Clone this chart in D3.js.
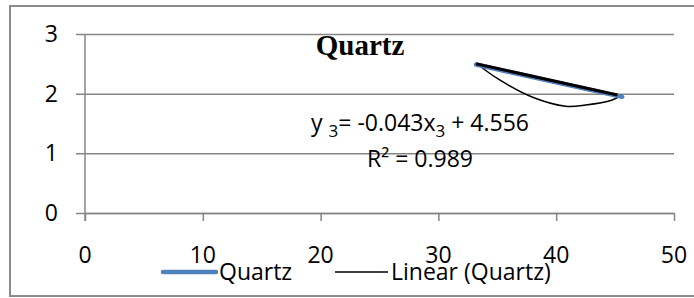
<!DOCTYPE html>
<html>
<head>
<meta charset="utf-8">
<script src="https://cdn.jsdelivr.net/npm/d3@7"></script>
<style>
  body { margin: 0; background: #fff; }
  text { font-family: "Open Sans", sans-serif; fill: #000; }
  .title { font-family: "Liberation Serif", serif; font-weight: bold; }
</style>
</head>
<body>
<svg id="chart"></svg>
<script>
// Data
const quartzX = [33.2, 45.6];
const quartzY = [2.5, 1.96];
// thin curved black line under the series
const curveX = [33.2, 35.2, 38.0, 40.8, 42.5, 44.7, 45.6];
const curveY = [2.51, 2.23, 1.94, 1.79, 1.81, 1.89, 1.98];
const xTicks = [0, 10, 20, 30, 40, 50];
const yTicks = [0, 1, 2, 3];
const equationText = ['y ', '3', '= -0.043x', '3', ' + 4.556'];
const r2Text = 'R\u00b2 = 0.989';
const seriesName = 'Quartz';
const trendName = 'Linear (Quartz)';

const W = 694, H = 298;
const FS = '23px';
const svg = d3.select('#chart').attr('width', W).attr('height', H);

// outer frame (right edge runs off the picture)
svg.append('rect')
  .attr('x', 10).attr('y', 6).attr('width', 700).attr('height', 290)
  .attr('fill', 'none').attr('stroke', '#8c8c8c').attr('stroke-width', 2);

const x = d3.scaleLinear().domain([0, 50]).range([85, 674]);
const y = d3.scaleLinear().domain([0, 3]).range([213, 34]);

// horizontal gridlines + left tick marks
const yAxis = d3.axisRight(y).tickValues(yTicks).tickSize(674 - 76).tickFormat('');
const yG = svg.append('g').attr('transform', 'translate(76,0)').call(yAxis);
yG.select('.domain').remove();
yG.selectAll('.tick line').attr('stroke', '#868686').attr('stroke-width', 1.5);

// y labels
svg.append('g').selectAll('text').data(yTicks).join('text')
  .attr('x', 58).attr('y', d => y(d) + 8)
  .attr('text-anchor', 'end').style('font-size', FS)
  .text(d => d);

// x axis
const xAxis = d3.axisBottom(x).tickValues(xTicks).tickSize(8).tickSizeOuter(0).tickFormat('');
const xG = svg.append('g').attr('transform', `translate(0,${y(0)})`).call(xAxis);
xG.select('.domain').attr('stroke', '#868686').attr('stroke-width', 1.5);
xG.selectAll('.tick line').attr('stroke', '#868686').attr('stroke-width', 1.5);

// vertical axis line
svg.append('line')
  .attr('x1', x(0)).attr('x2', x(0))
  .attr('y1', y(3)).attr('y2', y(0) + 8)
  .attr('stroke', '#868686').attr('stroke-width', 1.5);

// x labels
svg.append('g').selectAll('text').data(xTicks).join('text')
  .attr('x', d => x(d)).attr('y', 263)
  .attr('text-anchor', 'middle').style('font-size', FS)
  .text(d => d);

// title
svg.append('text').attr('class', 'title')
  .attr('x', 360).attr('y', 55)
  .attr('text-anchor', 'middle').style('font-size', '29px')
  .text('Quartz');

// series
const series = quartzX.map((d, i) => ({ x: d, y: quartzY[i] }));
const curvePts = curveX.map((d, i) => ({ x: d, y: curveY[i] }));
const line = d3.line().x(d => x(d.x)).y(d => y(d.y));

svg.append('path').datum(curvePts)
  .attr('d', line.curve(d3.curveCatmullRom))
  .attr('fill', 'none').attr('stroke', '#000').attr('stroke-width', 1.5);

svg.append('path').datum(series)
  .attr('d', d3.line().x(d => x(d.x)).y(d => y(d.y) + 0.8))
  .attr('fill', 'none').attr('stroke', '#4f81bd').attr('stroke-width', 4.5)
  .attr('stroke-linecap', 'round');

// linear trend from a least squares fit
const n = series.length;
const mx = d3.mean(series, d => d.x), my = d3.mean(series, d => d.y);
const slope = d3.sum(series, d => (d.x - mx) * (d.y - my)) / d3.sum(series, d => (d.x - mx) ** 2);
const icpt = my - slope * mx;
const trend = [quartzX[0], quartzX[n - 1] - 0.4].map(v => ({ x: v, y: icpt + slope * v }));
svg.append('path').datum(trend)
  .attr('d', d3.line().x(d => x(d.x)).y(d => y(d.y)))
  .attr('fill', 'none').attr('stroke', '#000').attr('stroke-width', 3);

// equation labels
const eq = svg.append('text')
  .attr('x', 420).attr('y', 131)
  .attr('text-anchor', 'middle').style('font-size', FS);
equationText.forEach((t, i) => {
  const sub = i % 2 === 1;
  eq.append('tspan')
    .attr('dy', sub ? 6 : (i > 0 ? -6 : 0))
    .style('font-size', sub ? '17px' : FS)
    .text(t);
});
svg.append('text')
  .attr('x', 420).attr('y', 167)
  .attr('text-anchor', 'middle').style('font-size', FS)
  .text(r2Text);

// legend
const legend = svg.append('g');
legend.append('line')
  .attr('x1', 163).attr('x2', 216).attr('y1', 272).attr('y2', 272)
  .attr('stroke', '#4f81bd').attr('stroke-width', 4.5).attr('stroke-linecap', 'round');
legend.append('text').attr('x', 219).attr('y', 280).style('font-size', FS).text(seriesName);
legend.append('line')
  .attr('x1', 335).attr('x2', 388).attr('y1', 272).attr('y2', 272)
  .attr('stroke', '#000').attr('stroke-width', 1.5);
legend.append('text').attr('x', 391).attr('y', 280).style('font-size', FS).text(trendName);
</script>
</body>
</html>
